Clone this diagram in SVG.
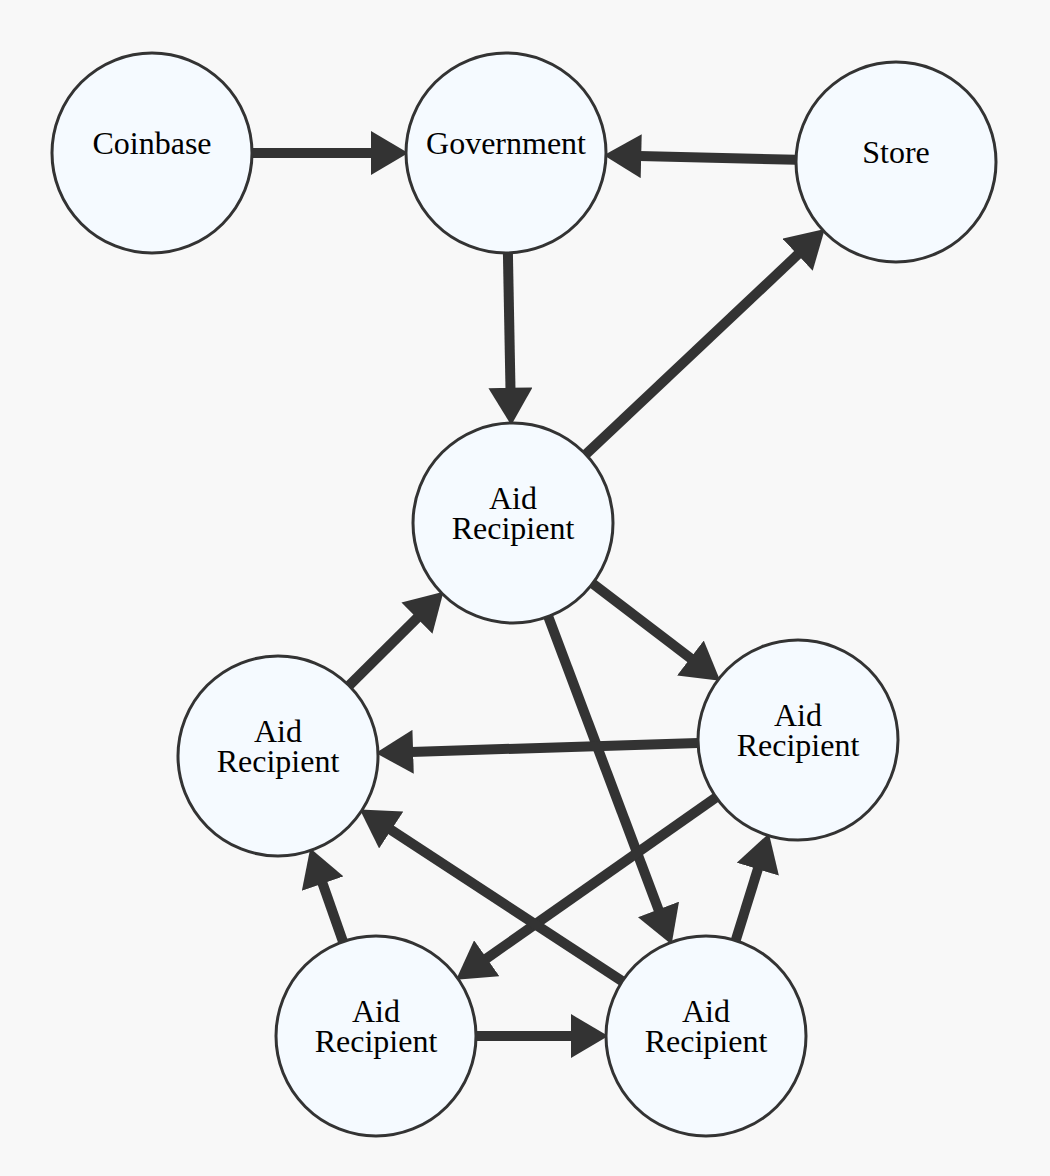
<svg xmlns="http://www.w3.org/2000/svg" width="1050" height="1176" viewBox="0 0 1050 1176">
<style>
.edge{stroke:#333;stroke-width:10;fill:none;marker-end:url(#ah)}
.node circle{fill:#f5faff;stroke:#333;stroke-width:3}
.node text{font-family:"Liberation Serif","Times New Roman",serif;font-size:32px;fill:#000;text-anchor:middle}
</style>
<defs>
<marker id="ah" markerUnits="userSpaceOnUse" markerWidth="40" markerHeight="44" refX="2" refY="20" orient="auto" viewBox="0 0 36 40">
<path d="M0,0 L34,20 L0,40 z" fill="#333"/>
</marker>
</defs>
<rect width="1050" height="1176" fill="#f8f8f8"/>
<g id="connectors">
<line class="edge" x1="252" y1="153" x2="373" y2="153"/>
<line class="edge" x1="796" y1="159.7" x2="639" y2="156.1"/>
<line class="edge" x1="507.9" y1="253" x2="510.5" y2="390"/>
<line class="edge" x1="585.8" y1="454.4" x2="799.2" y2="253.2"/>
<line class="edge" x1="592.6" y1="583.6" x2="692.2" y2="659.4"/>
<line class="edge" x1="548.2" y1="616.6" x2="659.2" y2="911.5"/>
<line class="edge" x1="349" y1="685.6" x2="418.5" y2="616.6"/>
<line class="edge" x1="698" y1="743.1" x2="410.9" y2="751.9"/>
<line class="edge" x1="716.1" y1="797.4" x2="484.9" y2="959.6"/>
<line class="edge" x1="622.3" y1="981.3" x2="389.3" y2="828.8"/>
<line class="edge" x1="343" y1="941.6" x2="321.9" y2="881.5"/>
<line class="edge" x1="476" y1="1036" x2="573" y2="1036"/>
<line class="edge" x1="735.7" y1="940.5" x2="758.5" y2="867"/>
</g>
<g id="coinbase" class="node"><circle cx="152" cy="153" r="100"/><text x="152" y="154">Coinbase</text></g>
<g id="government" class="node"><circle cx="506" cy="153" r="100"/><text x="506" y="154">Government</text></g>
<g id="store" class="node"><circle cx="896" cy="162" r="100"/><text x="896" y="163">Store</text></g>
<g id="aid1" class="node"><circle cx="513" cy="523" r="100"/><text x="513" y="509">Aid</text><text x="513" y="539">Recipient</text></g>
<g id="aid2" class="node"><circle cx="278" cy="756" r="100"/><text x="278" y="742">Aid</text><text x="278" y="772">Recipient</text></g>
<g id="aid3" class="node"><circle cx="798" cy="740" r="100"/><text x="798" y="726">Aid</text><text x="798" y="756">Recipient</text></g>
<g id="aid4" class="node"><circle cx="376" cy="1036" r="100"/><text x="376" y="1022">Aid</text><text x="376" y="1052">Recipient</text></g>
<g id="aid5" class="node"><circle cx="706" cy="1036" r="100"/><text x="706" y="1022">Aid</text><text x="706" y="1052">Recipient</text></g>
</svg>
